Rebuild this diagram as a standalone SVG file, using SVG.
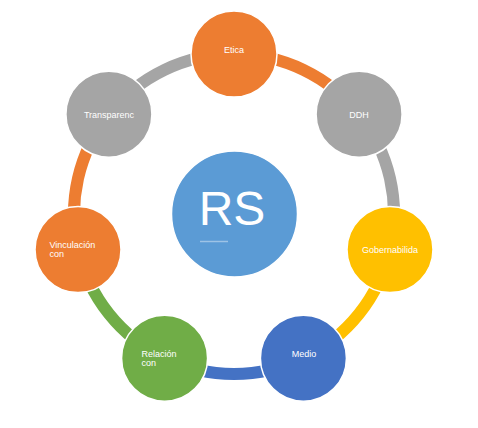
<svg xmlns="http://www.w3.org/2000/svg" width="478" height="428" viewBox="0 0 478 428">
<style>
.arc{fill:none;stroke-width:12}
.node{stroke:#fff;stroke-width:1.5}
.lbl{font-family:"Liberation Sans",Arial,sans-serif;font-size:9px;fill:#fff}
.c{text-anchor:middle}
</style>
<rect width="478" height="428" fill="#fff"/>
<g id="connectors">
<path class="arc" stroke="#ED7D31" d="M234,54 A160,160 0 0 1 359.09,114.24"/>
<path class="arc" stroke="#A5A5A5" d="M359.09,114.24 A160,160 0 0 1 389.99,249.6"/>
<path class="arc" stroke="#FFC000" d="M389.99,249.6 A160,160 0 0 1 303.42,358.16"/>
<path class="arc" stroke="#4472C4" d="M303.42,358.16 A160,160 0 0 1 164.58,358.16"/>
<path class="arc" stroke="#70AD47" d="M164.58,358.16 A160,160 0 0 1 78.01,249.6"/>
<path class="arc" stroke="#ED7D31" d="M78.01,249.6 A160,160 0 0 1 108.91,114.24"/>
<path class="arc" stroke="#A5A5A5" d="M108.91,114.24 A160,160 0 0 1 234,54"/>
</g>
<g id="rs">
<circle cx="234.5" cy="214" r="63" fill="#5B9BD5" stroke="#fff" stroke-width="1.5"/>
<text x="232" y="225" text-anchor="middle" font-family="'Liberation Sans',Arial,sans-serif" font-size="48" fill="#fff">RS</text>
<line x1="200" y1="241.5" x2="228" y2="241.5" stroke="#9DC3E6" stroke-width="1.5"/>
</g>
<g id="etica">
<circle class="node" cx="234" cy="54" r="43" fill="#ED7D31"/>
<text class="lbl c" x="234" y="52.5">Etica</text>
</g>
<g id="ddh">
<circle class="node" cx="359.09" cy="114.24" r="43" fill="#A5A5A5"/>
<text class="lbl c" x="359" y="117.5">DDH</text>
</g>
<g id="gobernabilidad">
<circle class="node" cx="389.99" cy="249.6" r="43" fill="#FFC000"/>
<text class="lbl c" x="390" y="253">Gobernabilida</text>
</g>
<g id="medio">
<circle class="node" cx="303.42" cy="358.16" r="43" fill="#4472C4"/>
<text class="lbl c" x="304" y="356.5">Medio</text>
</g>
<g id="relacion">
<circle class="node" cx="164.58" cy="358.16" r="43" fill="#70AD47"/>
<text class="lbl" x="141.5" y="356.5">Relación</text>
<text class="lbl" x="141.5" y="365.5">con</text>
</g>
<g id="vinculacion">
<circle class="node" cx="78.01" cy="249.6" r="43" fill="#ED7D31"/>
<text class="lbl" x="49.5" y="248">Vinculación</text>
<text class="lbl" x="49.5" y="257">con</text>
</g>
<g id="transparencia">
<circle class="node" cx="108.91" cy="114.24" r="43" fill="#A5A5A5"/>
<text class="lbl c" x="109" y="117.5">Transparenc</text>
</g>
</svg>
